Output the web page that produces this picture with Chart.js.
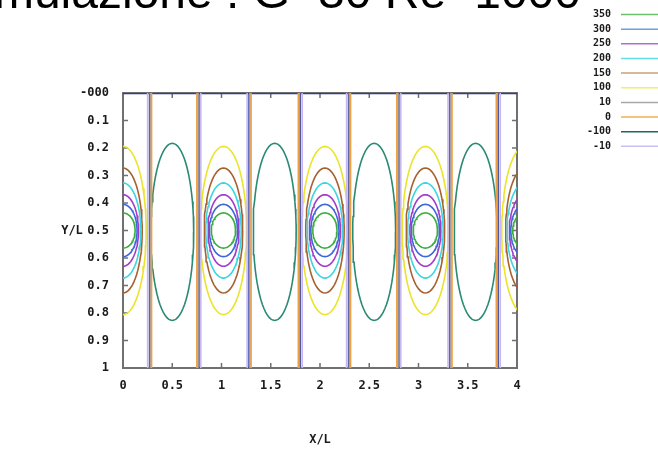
<!DOCTYPE html>
<html><head><meta charset="utf-8">
<script src="https://cdn.jsdelivr.net/npm/chart.js@4"></script>
<style>html,body{margin:0;padding:0;background:#fff}#wrap{width:658px;height:450px;position:relative}</style>
</head><body><div id="wrap"><canvas id="c" width="658" height="450"></canvas></div>
<script>
// ---- data ----
const titleText = "Simulazione : G=30 Re=1000";
const xAxisLabel = "X/L";
const yAxisLabel = "Y/L";
const xTickValues = [0, 0.5, 1, 1.5, 2, 2.5, 3, 3.5, 4];
const xTickLabels = ["0", "0.5", "1", "1.5", "2", "2.5", "3", "3.5", "4"];
const yTickValues = [0, 0.1, 0.2, 0.3, 0.4, 0.5, 0.6, 0.7, 0.8, 0.9, 1];
const yTickLabels = ["-000", "0.1", "0.2", "0.3", "0.4", "0.5", "0.6", "0.7", "0.8", "0.9", "1"];
const legendLevels = [350, 300, 250, 200, 150, 100, 10, 0, -100, -10];
// positive cells: closed contours around these centres
const posCentersX = [0, 1.02, 2.05, 3.07, 4.08];
const posCenterY = 0.5;
const posLevels = [350, 300, 250, 200, 150, 100];
const posHalfWidth = [0.123, 0.143, 0.157, 0.18, 0.195, 0.235];
const posHalfHeight = [0.064, 0.095, 0.13, 0.173, 0.227, 0.306];
// negative cells
const negCentersX = [0.5, 1.54, 2.55, 3.58];
const negCenterY = 0.505;
const negLevel = -100;
const negHalfWidth = 0.218;
const negHalfHeight = 0.322;
// near-zero contours along cell boundaries and top wall
const boundaryX = [0.27, 0.77, 1.28, 1.80, 2.29, 2.80, 3.32, 3.81];
const boundaryLevels = [-10, 0, 10];
const boundaryShift = [-0.02, 0.02, 0.008];
const wallY = 0;

// ---- styles ----
const levelColors = {
  "350": "#3aae3e", "300": "#3c66dc", "250": "#a23cc8", "200": "#3cd6e2",
  "150": "#a8602e", "100": "#ece42a", "10": "#a4a0a0", "0": "#eea040",
  "-100": "#2a8a74", "-10": "#c6b8f0"
};
const legendColors = {
  "350": "#6cc06c", "300": "#70a0e0", "250": "#b070c8", "200": "#60e0e8",
  "150": "#c8a078", "100": "#f0f060", "10": "#a8a8a8", "0": "#f0b050",
  "-100": "#1a6a5a", "-10": "#c8c0f0"
};
const wallColor = "#2a3aa6";
const tickFont = {family: "DejaVu Sans Mono", size: 12, weight: "bold"};
const textColor = "#1a1a1a";
const frameColor = "#707070";

function ellipse(cx, cy, a, b) {
  const pts = [];
  const n = 72;
  for (let k = 0; k <= n; k++) {
    const t = 2 * Math.PI * k / n;
    pts.push({x: cx + a * Math.cos(t), y: cy + b * Math.sin(t)});
  }
  return pts;
}

const datasets = [];
function lineDs(data, color, width) {
  datasets.push({data, borderColor: color, borderWidth: width, showLine: true,
    pointRadius: 0, fill: false, tension: 0});
}
// boundary lines
boundaryX.forEach((bx, i) => {
  const sgn = i % 2 === 0 ? 1 : -1;
  boundaryLevels.forEach((lv, j) => {
    const x = bx + sgn * boundaryShift[j];
    lineDs([{x, y: 0}, {x, y: 1}], levelColors[String(lv)], 1.6);
  });
  lineDs([{x: bx, y: 0}, {x: bx, y: 1}], wallColor, 1.6);
});
// negative cells
negCentersX.forEach(cx => lineDs(ellipse(cx, negCenterY, negHalfWidth, negHalfHeight), levelColors[String(negLevel)], 1.6));
// positive cells
posCentersX.forEach(cx => {
  posLevels.forEach((lv, j) => {
    lineDs(ellipse(cx, posCenterY, posHalfWidth[j], posHalfHeight[j]), levelColors[String(lv)], 1.6);
  });
});
// top wall
lineDs([{x: 0, y: wallY}, {x: 4, y: wallY}], wallColor, 2.5);

const decor = {
  id: "decor",
  beforeDatasetsDraw(chart) {
    const {ctx, chartArea: a, scales} = chart;
    ctx.save();
    ctx.strokeStyle = frameColor;
    ctx.lineWidth = 2;
    ctx.strokeRect(a.left, a.top, a.right - a.left, a.bottom - a.top);
    ctx.lineWidth = 1.5;
    ctx.beginPath();
    xTickValues.forEach(v => {
      const px = scales.x.getPixelForValue(v);
      ctx.moveTo(px, a.bottom); ctx.lineTo(px, a.bottom - 5);
      ctx.moveTo(px, a.top); ctx.lineTo(px, a.top + 5);
    });
    yTickValues.forEach(v => {
      const py = scales.y.getPixelForValue(v);
      ctx.moveTo(a.left, py); ctx.lineTo(a.left + 5, py);
      ctx.moveTo(a.right, py); ctx.lineTo(a.right - 5, py);
    });
    ctx.stroke();
    ctx.restore();
  },
  afterDraw(chart) {
    const {ctx} = chart;
    ctx.save();
    ctx.fillStyle = "#000";
    ctx.font = '48px "Liberation Sans"';
    ctx.textAlign = "right";
    ctx.textBaseline = "alphabetic";
    ctx.fillText(titleText, 581, 8);
    // legend
    ctx.font = 'bold 10px "DejaVu Sans Mono"';
    ctx.textBaseline = "middle";
    legendLevels.forEach((lv, i) => {
      const y = 14.5 + i * 14.65;
      ctx.fillStyle = textColor;
      ctx.textAlign = "right";
      ctx.fillText(String(lv), 611, y);
      ctx.strokeStyle = legendColors[String(lv)];
      ctx.lineWidth = 1.5;
      ctx.beginPath(); ctx.moveTo(621, y); ctx.lineTo(660, y); ctx.stroke();
    });
    // axis labels
    ctx.font = 'bold 12px "DejaVu Sans Mono"';
    ctx.fillStyle = textColor;
    ctx.textAlign = "center";
    ctx.fillText(yAxisLabel, 72, 231);
    ctx.fillText(xAxisLabel, 320, 440);
    ctx.restore();
  }
};

new Chart(document.getElementById("c"), {
  type: "scatter",
  data: {datasets},
  options: {
    responsive: false,
    animation: false,
    events: [],
    layout: {padding: {left: 0, right: 141, top: 93, bottom: 0}},
    plugins: {legend: {display: false}, title: {display: false}, tooltip: {enabled: false}},
    scales: {
      x: {
        type: "linear", min: 0, max: 4,
        afterBuildTicks: s => { s.ticks = xTickValues.map(v => ({value: v})); },
        ticks: {callback: v => xTickLabels[xTickValues.indexOf(v)], font: tickFont, color: textColor,
          padding: 11, maxRotation: 0, autoSkip: false},
        grid: {display: false, drawTicks: false},
        border: {display: false},
        afterFit: s => { s.height = 82; }
      },
      y: {
        type: "linear", min: 0, max: 1, reverse: true,
        afterBuildTicks: s => { s.ticks = yTickValues.map(v => ({value: v})); },
        ticks: {callback: v => yTickLabels[yTickValues.indexOf(v)], font: tickFont, color: textColor,
          padding: 14, autoSkip: false},
        grid: {display: false, drawTicks: false},
        border: {display: false},
        afterFit: s => { s.width = 123; }
      }
    }
  },
  plugins: [decor]
});
</script></body></html>
